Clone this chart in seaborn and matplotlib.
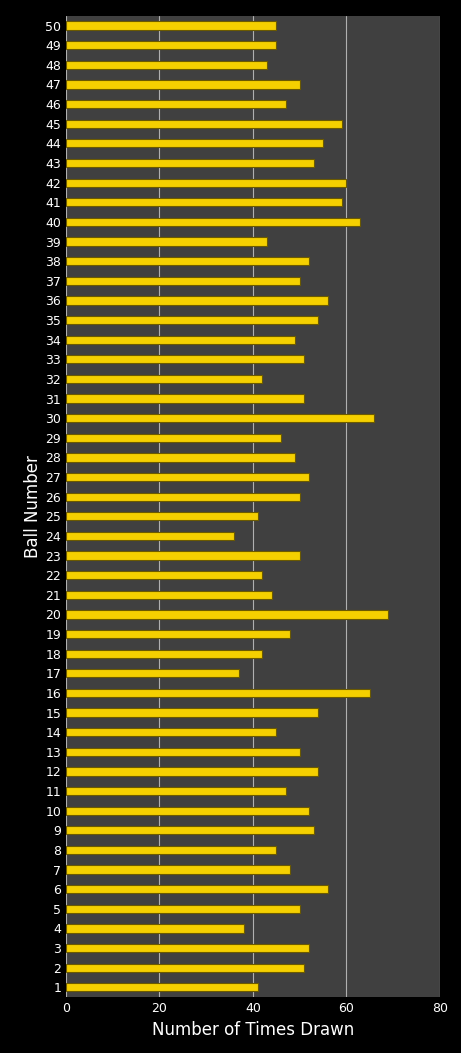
import matplotlib
matplotlib.use("Agg")
import matplotlib.pyplot as plt
import pandas as pd
import seaborn as sns

# Ball numbers and how often each was drawn
balls = list(range(1, 51))
times_drawn = [41, 51, 52, 38, 50, 56, 48, 45, 53, 52,
               47, 54, 50, 45, 54, 65, 37, 42, 48, 69,
               44, 42, 50, 36, 41, 50, 52, 49, 46, 66,
               51, 42, 51, 49, 54, 56, 50, 52, 43, 63,
               59, 60, 53, 55, 59, 47, 50, 43, 45, 45]

df = pd.DataFrame({"ball": [str(b) for b in balls], "drawn": times_drawn})
order = [str(b) for b in reversed(balls)]

sns.set_style("dark")
fig = plt.figure(figsize=(4.61, 10.53), dpi=100, facecolor="black")
ax = fig.add_axes([0.143, 0.053, 0.811, 0.932])
ax.set_facecolor("#404040")

sns.barplot(data=df, x="drawn", y="ball", order=order, orient="h",
            color="#f5d000", edgecolor="#6b5a00", linewidth=0.8,
            width=0.42, saturation=1, ax=ax)

ax.set_xlim(0, 80)
ax.set_xticks([0, 20, 40, 60, 80])
ax.grid(axis="x", color="#b0b0b0", linewidth=0.8)
ax.grid(axis="y", visible=False)
ax.set_axisbelow(True)
for s in ax.spines.values():
    s.set_visible(False)

ax.tick_params(colors="white", labelsize=9, length=0)
ax.set_xlabel("Number of Times Drawn", color="white", fontsize=12)
ax.set_ylabel("Ball Number", color="white", fontsize=12, labelpad=2)

fig.savefig("out.png", dpi=100, facecolor="black")
